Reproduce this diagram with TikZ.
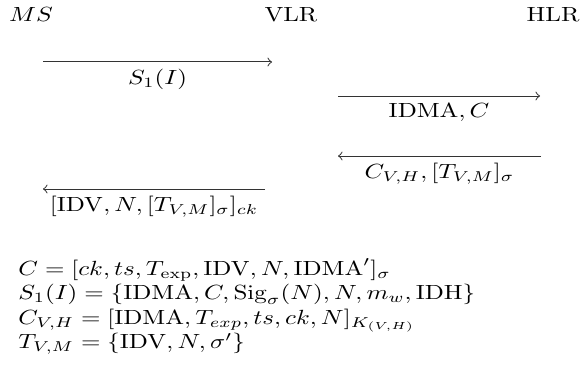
\documentclass[tikz,border=0pt]{standalone}
\usepackage{amsmath}
\newcommand{\vsq}[1]{\scalebox{1}[0.82]{#1}}
\begin{document}
\begin{tikzpicture}[x=0.4pt,y=-0.4pt,
  actor/.style={anchor=base, inner sep=0pt},
  msg/.style={draw=black!80, line width=0.4pt},
  lbl/.style={anchor=north, inner sep=0pt, yshift=-2.6pt},
  eqn/.style={anchor=base west, inner sep=0pt}]
\useasboundingbox (0,0) rectangle (584,366);
\node[actor] (ms) at (31,22) {\vsq{$MS$}};
\node[actor] (vlr) at (291,22) {\vsq{VLR}};
\node[actor] (hlr) at (553,22) {\vsq{HLR}};
\coordinate (a1s) at (43,62);  \coordinate (a1e) at (272,62);
\coordinate (a2s) at (338,96); \coordinate (a2e) at (540,96);
\coordinate (a3s) at (541,156); \coordinate (a3e) at (338,156);
\coordinate (a4s) at (265,189); \coordinate (a4e) at (43,189);
\draw[msg,->] (a1s) -- (a1e) node[lbl, midway] (l1) {\vsq{$S_1(I)$}};
\draw[msg,->] (a2s) -- (a2e) node[lbl, midway] (l2) {\vsq{$\mathrm{IDMA}, C$}};
\draw[msg,->] (a3s) -- (a3e) node[lbl, midway] (l3) {\vsq{$C_{V,H}, [T_{V,M}]_\sigma$}};
\draw[msg,->] (a4s) -- (a4e) node[lbl, midway] (l4) {\vsq{$[\mathrm{IDV}, N, [T_{V,M}]_\sigma]_{ck}$}};
\node[eqn] (e1) at (18,275) {\vsq{$C=[ck,ts,T_{\mathrm{exp}},\mathrm{IDV},N,\mathrm{IDMA}']_\sigma$}};
\node[eqn] (e2) at (18,299.5) {\vsq{$S_1(I)=\{\mathrm{IDMA},C,\mathrm{Sig}_\sigma(N),N,m_w,\mathrm{IDH}\}$}};
\node[eqn] (e3) at (18,324) {\vsq{$C_{V,H}=[\mathrm{IDMA},T_{exp},ts,ck,N]_{K_{(V,H)}}$}};
\node[eqn] (e4) at (18,348.5) {\vsq{$T_{V,M}=\{\mathrm{IDV},N,\sigma'\}$}};
\end{tikzpicture}
\end{document}
